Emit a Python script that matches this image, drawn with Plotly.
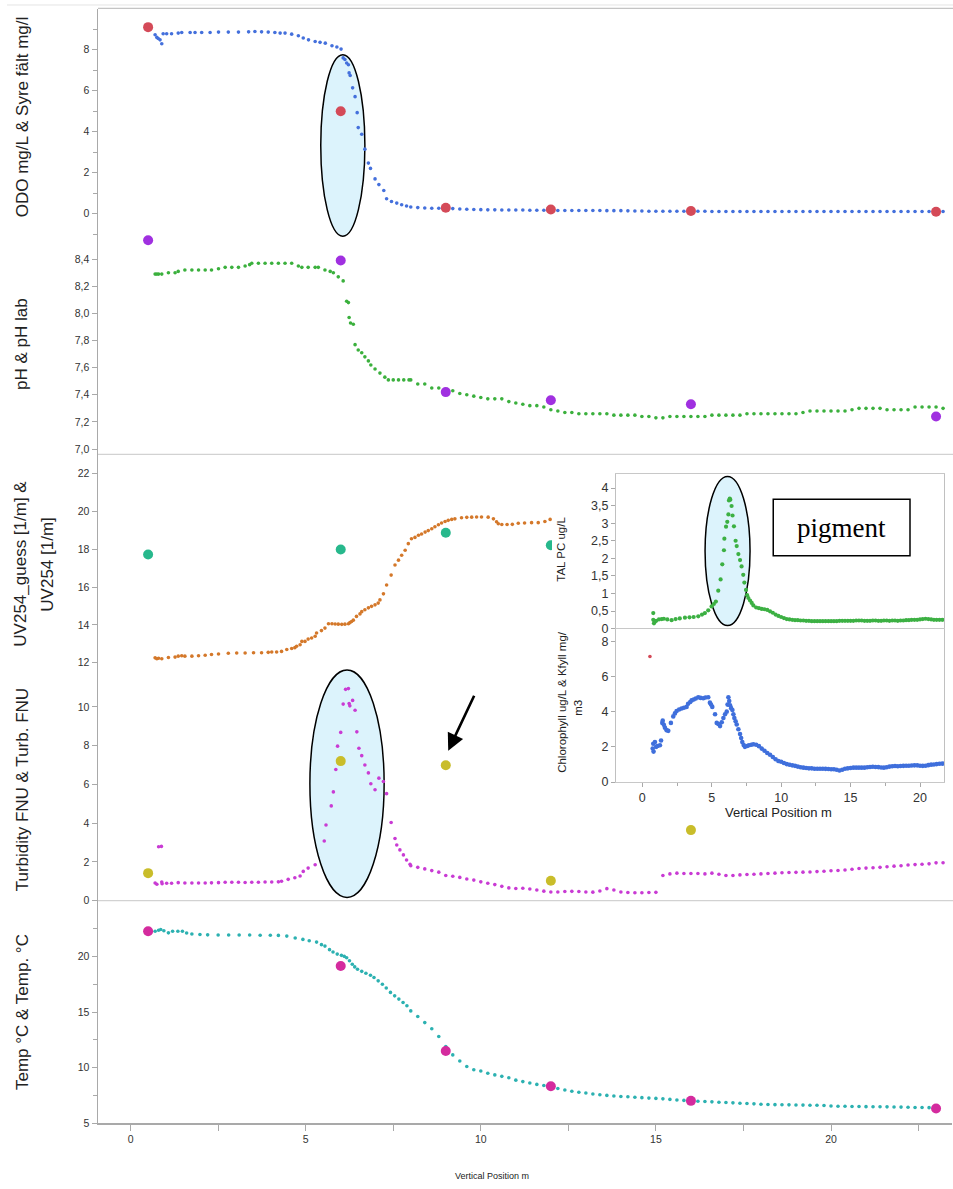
import plotly.graph_objects as go

W, H = 953, 1189

# ------------------------------------------------------------------ data
# shared depth grid for the deeper, slowly varying part of the profile (m)
deep_x = [8.0, 8.2, 8.4, 8.6, 8.8, 9.0, 9.2, 9.4, 9.6, 9.8,
          10.0, 10.2, 10.4, 10.6, 10.8, 11.0, 11.2, 11.4, 11.6, 11.8,
          12.0, 12.2, 12.4, 12.6, 12.8, 13.0, 13.2, 13.4, 13.6, 13.8,
          14.0, 14.2, 14.4, 14.6, 14.8, 15.0, 15.2, 15.4, 15.6, 15.8,
          16.0, 16.2, 16.4, 16.6, 16.8, 17.0, 17.2, 17.4, 17.6, 17.8,
          18.0, 18.2, 18.4, 18.6, 18.8, 19.0, 19.2, 19.4, 19.6, 19.8,
          20.0, 20.2, 20.4, 20.6, 20.8, 21.0, 21.2, 21.4, 21.6, 21.8,
          22.0, 22.2, 22.4, 22.6, 22.8, 23.0, 23.2]

# ODO mg/L (sonde)
odo_top = [(0.70, 8.73), (0.75, 8.60), (0.79, 8.55), (0.84, 8.48), (0.89, 8.29), (0.93, 8.78),
           (1.03, 8.78), (1.17, 8.78), (1.36, 8.81), (1.46, 8.84), (1.70, 8.84), (1.84, 8.84),
           (2.03, 8.84), (2.27, 8.84), (2.51, 8.86), (2.79, 8.86), (3.08, 8.86), (3.37, 8.87),
           (3.55, 8.89), (3.74, 8.87), (3.93, 8.86), (4.12, 8.84), (4.27, 8.81), (4.41, 8.81),
           (4.60, 8.76), (4.79, 8.68), (4.93, 8.57), (5.08, 8.48), (5.27, 8.40), (5.41, 8.36),
           (5.56, 8.32), (5.75, 8.19), (5.89, 8.13), (6.01, 8.03), (6.07, 7.60), (6.12, 7.52),
           (6.17, 7.35), (6.22, 7.27), (6.24, 6.87), (6.27, 6.74), (6.34, 6.14), (6.41, 5.71),
           (6.47, 4.93), (6.50, 4.20), (6.60, 3.88), (6.69, 3.15), (6.79, 2.47), (6.85, 2.21),
           (6.98, 1.70), (7.09, 1.42), (7.23, 1.13), (7.31, 0.73), (7.45, 0.60), (7.60, 0.52),
           (7.74, 0.44), (7.88, 0.38)]
odo_deep = [0.33, 0.30, 0.28, 0.27, 0.27, 0.26, 0.25, 0.23, 0.22, 0.21,
            0.20, 0.19, 0.19, 0.18, 0.18, 0.18, 0.18, 0.17, 0.17, 0.17,
            0.17, 0.16, 0.16, 0.16, 0.16, 0.16, 0.16, 0.16, 0.15, 0.15,
            0.15, 0.14, 0.13, 0.13, 0.12, 0.12, 0.12, 0.12, 0.12, 0.12,
            0.12, 0.12, 0.12, 0.11, 0.11, 0.11, 0.11, 0.11, 0.11, 0.11,
            0.11, 0.11, 0.11, 0.11, 0.11, 0.11, 0.11, 0.11, 0.11, 0.11,
            0.11, 0.11, 0.11, 0.11, 0.11, 0.11, 0.11, 0.11, 0.11, 0.11,
            0.11, 0.11, 0.11, 0.11, 0.11, 0.11, 0.11]

# Syre fält mg/l (field samples)
sample_depth = [0.5, 6, 9, 12, 16, 23]
syre_falt = [9.10, 5.00, 0.29, 0.21, 0.13, 0.10]

# pH (sonde)
ph_top = [(0.70, 8.29), (0.75, 8.29), (0.80, 8.29), (0.89, 8.29), (1.08, 8.30), (1.27, 8.30),
          (1.36, 8.31), (1.55, 8.32), (1.75, 8.32), (1.94, 8.32), (2.13, 8.32), (2.31, 8.32),
          (2.51, 8.33), (2.70, 8.34), (2.89, 8.34), (3.08, 8.34), (3.27, 8.35), (3.40, 8.36),
          (3.46, 8.37), (3.65, 8.37), (3.84, 8.37), (4.03, 8.37), (4.22, 8.37), (4.41, 8.37),
          (4.60, 8.37), (4.79, 8.35), (4.89, 8.34), (5.07, 8.34), (5.27, 8.34), (5.36, 8.34),
          (5.55, 8.32), (5.70, 8.31), (5.79, 8.30), (5.93, 8.27), (6.07, 8.24), (6.17, 8.09),
          (6.22, 8.08), (6.24, 7.97), (6.28, 7.93), (6.36, 7.92), (6.41, 7.77), (6.50, 7.73),
          (6.60, 7.71), (6.69, 7.68), (6.79, 7.65), (6.86, 7.62), (6.98, 7.59), (7.12, 7.56),
          (7.26, 7.53), (7.36, 7.51), (7.50, 7.51), (7.65, 7.51), (7.80, 7.51), (7.95, 7.51)]
ph_deep = [7.51, 7.48, 7.48, 7.45, 7.45, 7.43, 7.43, 7.41, 7.40, 7.39,
           7.38, 7.37, 7.37, 7.37, 7.35, 7.34, 7.33, 7.32, 7.32, 7.31,
           7.29, 7.28, 7.27, 7.27, 7.26, 7.26, 7.26, 7.26, 7.26, 7.25,
           7.25, 7.25, 7.25, 7.24, 7.24, 7.23, 7.23, 7.24, 7.24, 7.24,
           7.24, 7.24, 7.24, 7.25, 7.25, 7.25, 7.25, 7.25, 7.26, 7.26,
           7.26, 7.26, 7.26, 7.26, 7.26, 7.26, 7.27, 7.28, 7.28, 7.28,
           7.28, 7.28, 7.28, 7.29, 7.30, 7.30, 7.30, 7.30, 7.29, 7.29,
           7.29, 7.29, 7.31, 7.31, 7.31, 7.31, 7.30]
ph_lab = [8.54, 8.39, 7.42, 7.36, 7.33, 7.24]

# UV254 [1/m] (sonde, the part visible left of the inset)
uv254 = [(0.70, 12.26), (0.75, 12.21), (0.80, 12.24), (0.89, 12.21), (1.08, 12.28), (1.27, 12.30),
         (1.36, 12.35), (1.46, 12.37), (1.55, 12.35), (1.75, 12.35), (1.94, 12.37), (2.13, 12.40),
         (2.31, 12.44), (2.51, 12.46), (2.79, 12.50), (3.03, 12.52), (3.27, 12.52), (3.51, 12.53),
         (3.74, 12.53), (3.93, 12.55), (4.03, 12.57), (4.17, 12.57), (4.31, 12.60), (4.46, 12.70),
         (4.60, 12.75), (4.69, 12.80), (4.74, 12.87), (4.84, 12.95), (4.89, 13.13), (4.98, 13.13),
         (5.07, 13.25), (5.17, 13.31), (5.27, 13.40), (5.31, 13.57), (5.45, 13.70), (5.55, 13.83),
         (5.65, 14.06), (5.75, 14.06), (5.84, 14.05), (5.93, 14.04), (6.03, 14.03), (6.12, 14.04),
         (6.22, 14.06), (6.26, 14.12), (6.31, 14.18), (6.36, 14.25), (6.45, 14.45), (6.55, 14.58),
         (6.60, 14.70), (6.69, 14.80), (6.79, 14.90), (6.88, 14.98), (6.98, 15.06), (7.07, 15.15),
         (7.12, 15.32), (7.22, 15.64), (7.31, 16.11), (7.44, 16.63), (7.55, 17.16), (7.65, 17.42),
         (7.74, 17.68), (7.84, 17.94), (7.93, 18.29), (8.02, 18.55), (8.12, 18.62), (8.22, 18.73),
         (8.31, 18.80), (8.41, 18.90), (8.50, 18.98), (8.60, 19.08), (8.69, 19.18), (8.79, 19.29),
         (8.88, 19.38), (8.98, 19.46), (9.07, 19.52), (9.17, 19.57), (9.26, 19.60), (9.45, 19.66),
         (9.60, 19.68), (9.74, 19.69), (9.88, 19.70), (10.02, 19.70), (10.21, 19.69), (10.36, 19.60),
         (10.45, 19.45), (10.50, 19.34), (10.60, 19.30), (10.75, 19.30), (10.90, 19.31), (11.07, 19.37),
         (11.25, 19.38), (11.45, 19.40), (11.64, 19.40), (11.83, 19.46), (11.98, 19.57)]
uv_guess_depth = [0.5, 6, 9, 12]
uv_guess = [17.72, 17.98, 18.87, 18.21]

# Turbidity FNU (sonde)
turb_top = [(0.80, 2.78), (0.88, 2.80), (0.70, 0.91), (0.75, 0.85), (0.89, 0.96), (0.90, 0.87),
            (1.03, 0.90), (1.17, 0.90), (1.36, 0.93), (1.55, 0.91), (1.75, 0.91), (1.94, 0.91),
            (2.13, 0.91), (2.31, 0.92), (2.51, 0.93), (2.70, 0.95), (2.89, 0.95), (3.08, 0.95),
            (3.27, 0.94), (3.46, 0.95), (3.65, 0.95), (3.84, 0.96), (4.03, 0.96), (4.22, 0.97),
            (4.31, 1.00), (4.50, 1.10), (4.69, 1.18), (4.84, 1.27), (4.93, 1.51), (5.07, 1.68),
            (5.27, 1.85), (5.53, 3.08), (5.58, 3.90), (5.73, 4.89), (5.79, 5.61), (5.86, 6.77),
            (5.91, 7.97), (6.00, 8.68), (6.07, 10.14), (6.14, 10.90), (6.22, 10.94), (6.24, 10.17),
            (6.26, 10.05), (6.34, 10.33), (6.41, 9.82), (6.46, 8.71), (6.52, 7.86), (6.60, 7.48),
            (6.69, 7.00), (6.79, 6.59), (6.86, 6.03), (6.98, 5.72), (7.09, 6.32), (7.22, 6.15),
            (7.31, 5.52), (7.44, 4.03), (7.55, 3.21), (7.60, 2.87), (7.69, 2.62), (7.79, 2.36),
            (7.88, 2.10), (7.98, 1.88)]
turb_deep = [1.80, 1.72, 1.64, 1.55, 1.47, 1.30, 1.26, 1.20, 1.12, 1.06,
             0.97, 0.90, 0.83, 0.74, 0.66, 0.63, 0.64, 0.60, 0.55, 0.49,
             0.45, 0.45, 0.47, 0.48, 0.47, 0.45, 0.44, 0.50, 0.62, 0.55,
             0.45, 0.42, 0.41, 0.41, 0.42, 0.43, 1.30, 1.38, 1.42, 1.40,
             1.40, 1.40, 1.38, 1.42, 1.36, 1.30, 1.30, 1.33, 1.35, 1.36,
             1.38, 1.40, 1.42, 1.44, 1.45, 1.46, 1.47, 1.48, 1.50, 1.52,
             1.54, 1.56, 1.58, 1.62, 1.66, 1.68, 1.70, 1.72, 1.75, 1.78,
             1.80, 1.84, 1.86, 1.88, 1.90, 1.95, 1.96]
turb_lab_depth = [0.5, 6, 9, 12, 16]
turb_lab = [1.42, 7.20, 6.99, 1.03, 3.64]

# Temp °C (sonde)
temp_top = [(0.70, 22.26), (0.80, 22.35), (0.86, 22.41), (0.95, 22.30), (1.08, 22.11), (1.20, 22.25),
            (1.35, 22.25), (1.48, 22.26), (1.60, 22.10), (1.75, 22.00), (1.98, 21.96), (2.20, 21.93),
            (2.50, 21.92), (2.80, 21.91), (3.10, 21.91), (3.40, 21.91), (3.70, 21.90), (3.99, 21.90),
            (4.22, 21.88), (4.46, 21.82), (4.70, 21.65), (4.92, 21.52), (5.10, 21.40), (5.31, 21.28),
            (5.45, 21.05), (5.55, 20.92), (5.68, 20.60), (5.78, 20.39), (5.90, 20.20), (6.02, 20.09),
            (6.10, 20.00), (6.17, 19.88), (6.25, 19.60), (6.33, 19.29), (6.40, 19.05), (6.48, 18.84),
            (6.60, 18.65), (6.72, 18.48), (6.85, 18.30), (6.95, 18.10), (7.07, 17.80), (7.19, 17.50),
            (7.30, 17.15), (7.42, 16.76), (7.54, 16.45), (7.66, 16.16), (7.78, 15.85), (7.89, 15.56)]
temp_deep = [15.10, 14.60, 14.05, 13.50, 12.80, 11.90, 11.15, 10.60, 10.10, 9.82,
             9.70, 9.50, 9.35, 9.22, 9.10, 8.88, 8.75, 8.62, 8.50, 8.40,
             8.27, 8.13, 8.00, 7.88, 7.80, 7.72, 7.64, 7.57, 7.51, 7.45,
             7.41, 7.39, 7.35, 7.31, 7.27, 7.24, 7.20, 7.15, 7.10, 7.06,
             7.02, 6.99, 6.96, 6.93, 6.90, 6.87, 6.84, 6.81, 6.78, 6.75,
             6.71, 6.69, 6.68, 6.67, 6.66, 6.65, 6.64, 6.63, 6.62, 6.61,
             6.56, 6.54, 6.53, 6.52, 6.51, 6.50, 6.49, 6.49, 6.48, 6.47,
             6.46, 6.44, 6.43, 6.42, 6.41, 6.40, None]
temp_lab = [22.26, 19.14, 11.49, 8.33, 7.02, 6.34]

# inset: TAL PC ug/L
tal_top = [(0.79, 0.44), (0.79, 0.25), (0.84, 0.15), (0.90, 0.20), (1.00, 0.22), (1.20, 0.26),
           (1.40, 0.27), (1.55, 0.28), (1.80, 0.26), (2.11, 0.24), (2.40, 0.27), (2.70, 0.29),
           (3.07, 0.31), (3.40, 0.32), (3.70, 0.33), (4.03, 0.35), (4.30, 0.40), (4.51, 0.44),
           (4.75, 0.52), (4.99, 0.63), (5.15, 0.70), (5.30, 0.77), (5.47, 1.08), (5.64, 1.40),
           (5.76, 1.83), (5.88, 2.23), (5.91, 2.56), (6.03, 2.90), (6.12, 3.04), (6.20, 3.25),
           (6.24, 3.65), (6.30, 3.70), (6.34, 3.67), (6.43, 3.49), (6.50, 3.22), (6.60, 2.91),
           (6.72, 2.50), (6.80, 2.35), (6.92, 2.12), (7.04, 1.95), (7.15, 1.77), (7.27, 1.53),
           (7.35, 1.31), (7.47, 1.10), (7.55, 0.95), (7.64, 0.87), (7.76, 0.80), (7.88, 0.73)]
tal_deep = [0.66, 0.60, 0.58, 0.56, 0.55, 0.53, 0.49, 0.45, 0.40, 0.36,
            0.33, 0.30, 0.27, 0.26, 0.25, 0.24, 0.24, 0.23, 0.23, 0.22,
            0.22, 0.21, 0.21, 0.21, 0.21, 0.21, 0.21, 0.21, 0.21, 0.21,
            0.21, 0.22, 0.22, 0.22, 0.22, 0.22, 0.22, 0.23, 0.23, 0.23,
            0.22, 0.22, 0.22, 0.23, 0.23, 0.22, 0.22, 0.23, 0.23, 0.22,
            0.23, 0.23, 0.22, 0.23, 0.23, 0.24, 0.24, 0.25, 0.25, 0.25,
            0.26, 0.27, 0.28, 0.27, 0.26, 0.25, 0.25, 0.25, 0.25, 0.25,
            0.25, 0.25, 0.25, 0.25, 0.25, 0.25, 0.25]

# inset: Chlorophyll ug/L (sonde) and Kfyll mg/m3 (sample)
chl_top = [(0.79, 2.18), (0.75, 1.91), (0.81, 1.73), (0.91, 2.27), (1.00, 2.00), (1.10, 2.05),
           (1.27, 2.09), (1.35, 2.36), (1.44, 3.36), (1.47, 3.49), (1.55, 3.25), (1.63, 3.09),
           (1.75, 2.95), (1.87, 2.91), (2.06, 3.36), (2.23, 3.73), (2.35, 3.90), (2.47, 4.04),
           (2.65, 4.12), (2.83, 4.18), (3.00, 4.22), (3.19, 4.27), (3.30, 4.45), (3.45, 4.55),
           (3.55, 4.64), (3.70, 4.69), (3.85, 4.75), (4.03, 4.82), (4.20, 4.78), (4.39, 4.76),
           (4.55, 4.80), (4.75, 4.82), (4.87, 4.51), (4.95, 4.40), (5.04, 4.27), (5.24, 3.85),
           (5.36, 3.36), (5.48, 3.30), (5.60, 3.18), (5.72, 3.40), (5.84, 3.64), (5.96, 3.85),
           (6.08, 4.00), (6.14, 4.40), (6.20, 4.82), (6.26, 4.60), (6.32, 4.36), (6.40, 4.20),
           (6.49, 4.09), (6.56, 3.85), (6.63, 3.64), (6.72, 3.45), (6.80, 3.27), (6.92, 3.00),
           (7.04, 2.73), (7.12, 2.50), (7.20, 2.27), (7.30, 2.10), (7.39, 2.00), (7.55, 2.05),
           (7.68, 2.09), (7.85, 2.12)]
chl_deep = [2.15, 2.12, 2.04, 1.90, 1.78, 1.65, 1.55, 1.42, 1.30, 1.20,
            1.15, 1.08, 1.02, 0.98, 0.95, 0.92, 0.88, 0.84, 0.82, 0.80,
            0.78, 0.78, 0.76, 0.76, 0.76, 0.76, 0.75, 0.74, 0.73, 0.73,
            0.70, 0.66, 0.70, 0.76, 0.78, 0.80, 0.82, 0.82, 0.82, 0.82,
            0.82, 0.84, 0.86, 0.87, 0.86, 0.85, 0.83, 0.82, 0.84, 0.88,
            0.90, 0.91, 0.90, 0.91, 0.92, 0.93, 0.93, 0.94, 0.95, 0.95,
            0.93, 0.92, 0.93, 0.96, 0.99, 1.00, 1.02, 1.04, 1.05, 1.06,
            1.06, 1.06, 1.07, 1.07, 1.07, 1.07, 1.07]
kfyll_depth = [0.55]
kfyll = [7.13]

# tick labels
ph_ticks = [7.0, 7.2, 7.4, 7.6, 7.8, 8.0, 8.2, 8.4]
ph_ticktext = ["7,0", "7,2", "7,4", "7,6", "7,8", "8,0", "8,2", "8,4"]
tal_ticks = [0, 0.5, 1, 1.5, 2, 2.5, 3, 3.5, 4]
tal_ticktext = ["0", "0,5", "1", "1,5", "2", "2,5", "3", "3,5", "4"]

for arr in (odo_deep, ph_deep, turb_deep, temp_deep, tal_deep, chl_deep):
    assert len(arr) == len(deep_x), len(arr)

# ------------------------------------------------------------------ helpers
def pxx(p):
    return p / W


def pxy(p):
    return 1 - p / H


def series(top, deep):
    xs = [p[0] for p in top] + list(deep_x)
    ys = [p[1] for p in top] + list(deep)
    return xs, ys


def dots(x, y, xa, ya, color, size, clip=True):
    return go.Scatter(x=x, y=y, xaxis=xa, yaxis=ya, mode="markers",
                      marker=dict(color=color, size=size, line=dict(width=0)),
                      cliponaxis=clip, showlegend=False, hoverinfo="skip")


NARROW = "Liberation Sans Narrow, Arial Narrow, Liberation Sans, Arial, sans-serif"
SANS = "Liberation Sans, Arial, sans-serif"
AXC = "#a9a9a9"
TXT = "#333333"

fig = go.Figure()

# main panels
ox, oy = series(odo_top, odo_deep)
fig.add_trace(dots(ox, oy, "x", "y", "#4470dc", 3.6))
fig.add_trace(dots(sample_depth, syre_falt, "x", "y", "#d44a58", 10, clip=False))

px_, py_ = series(ph_top, ph_deep)
fig.add_trace(dots(px_, py_, "x", "y2", "#3bb03d", 3.6))
fig.add_trace(dots(sample_depth, ph_lab, "x", "y2", "#a030e0", 10, clip=False))

# UV panel uses its own x axis that stops where the pasted inset begins
fig.add_trace(dots([p[0] for p in uv254], [p[1] for p in uv254], "x4", "y3", "#d4782a", 3.6))
fig.add_trace(dots(uv_guess_depth, uv_guess, "x4", "y3", "#27b88c", 10, clip=True))

tx, ty = series(turb_top, turb_deep)
fig.add_trace(dots(tx, ty, "x", "y4", "#c93bd4", 3.6))
fig.add_trace(dots(turb_lab_depth, turb_lab, "x", "y4", "#c9bd2a", 10, clip=False))

mx, my = series(temp_top, temp_deep)
fig.add_trace(dots(mx, my, "x", "y5", "#2cb1b1", 3.6))
fig.add_trace(dots(sample_depth, temp_lab, "x", "y5", "#d42b9e", 10, clip=False))

# inset
gx, gy = series(tal_top, tal_deep)
fig.add_trace(dots(gx, gy, "x2", "y6", "#3cb043", 4.2))
cx, cy = series(chl_top, chl_deep)
fig.add_trace(dots(cx, cy, "x3", "y7", "#3f6fdc", 4.6))
fig.add_trace(dots(kfyll_depth, kfyll, "x3", "y7", "#d44a58", 3.6))

# ------------------------------------------------------------------ axes
PX_PER_M = 35.02
X0_PX = 130.6
main_xrange = [(98 - X0_PX) / PX_PER_M, (952 - X0_PX) / PX_PER_M]
uv_xrange = [(98 - X0_PX) / PX_PER_M, (552 - X0_PX) / PX_PER_M]
inset_xrange = [(616 - 642.3) / 13.885, (944 - 642.3) / 13.885]

tickfont = dict(family=NARROW, size=10.5, color=TXT)
yax_common = dict(showline=True, linecolor=AXC, linewidth=1.5, ticks="outside",
                  ticklen=5, tickcolor=AXC, tickfont=tickfont, showgrid=False,
                  zeroline=False, fixedrange=True)
inset_tickfont = dict(family=NARROW, size=12.5, color=TXT)

fig.update_layout(
    width=W, height=H, autosize=False,
    margin=dict(l=0, r=0, t=0, b=0, pad=0),
    paper_bgcolor="white", plot_bgcolor="white",
    separators=", ",
    showlegend=False,
    xaxis=dict(domain=[pxx(98), pxx(952)], range=main_xrange, anchor="y5",
               showline=True, linecolor=AXC, linewidth=1.5, ticks="outside",
               ticklen=6, tickcolor=AXC, tickvals=[0, 5, 10, 15, 20],
               minor=dict(dtick=2.5, tick0=0, ticks="outside", ticklen=6, tickcolor=AXC),
               tickfont=tickfont, showgrid=False, zeroline=False),
    xaxis4=dict(domain=[pxx(98), pxx(552)], range=uv_xrange, anchor="y3", visible=False,
                showgrid=False, zeroline=False),
    yaxis=dict(domain=[pxy(250), pxy(9)], range=[(215 - 250) / 20.625, (215 - 9) / 20.625],
               tickvals=[0, 2, 4, 6, 8], anchor="x",
               minor=dict(dtick=1, tick0=0, ticks="outside", ticklen=4, tickcolor=AXC),
               **yax_common),
    yaxis2=dict(domain=[pxy(457), pxy(239)], anchor="x",
                range=[7.0 + (451.7 - 457) / 136.4, 7.0 + (451.7 - 239) / 136.4],
                tickvals=ph_ticks, ticktext=ph_ticktext, **yax_common),
    yaxis3=dict(domain=[pxy(672), pxy(457)], anchor="x4",
                range=[20 - (672 - 514.3) / 19.05, 20 - (457 - 514.3) / 19.05],
                tickvals=[12, 14, 16, 18, 20, 22], **yax_common),
    yaxis4=dict(domain=[pxy(906), pxy(670)], range=[0, (906 - 670) / 19.5], anchor="x",
                tickvals=[0, 2, 4, 6, 8, 10], **yax_common),
    yaxis5=dict(domain=[pxy(1130), pxy(906)], range=[5, 25], anchor="x",
                tickvals=[5, 10, 15, 20],
                minor=dict(dtick=2.5, tick0=0, ticks="outside", ticklen=4, tickcolor=AXC),
                **yax_common),
    # inset axes
    xaxis2=dict(domain=[pxx(616), pxx(944)], range=inset_xrange, anchor="y6",
                showline=True, mirror=True, linecolor="#c8c8c8", linewidth=1,
                showticklabels=False, ticks="", showgrid=False, zeroline=False),
    xaxis3=dict(domain=[pxx(616), pxx(944)], range=inset_xrange, anchor="y7",
                showline=True, mirror=True, linecolor="#c8c8c8", linewidth=1,
                ticks="outside", ticklen=4, tickcolor=AXC, tickvals=[0, 5, 10, 15, 20],
                minor=dict(dtick=2.5, tick0=0, ticks="outside", ticklen=3, tickcolor=AXC),
                tickfont=inset_tickfont, showgrid=False, zeroline=False),
    yaxis6=dict(domain=[pxy(632.3), pxy(477)], range=[0, (632.3 - 477) / 35.33], anchor="x2",
                showline=True, mirror=True, linecolor="#c0c0c0", linewidth=1,
                ticks="outside", ticklen=4, tickcolor=AXC,
                tickvals=tal_ticks, ticktext=tal_ticktext,
                tickfont=inset_tickfont, showgrid=False, zeroline=False),
    yaxis7=dict(domain=[pxy(786.7), pxy(632.3)], range=[0, (786.7 - 632.3) / 17.71], anchor="x3",
                showline=True, mirror=True, linecolor="#c0c0c0", linewidth=1,
                ticks="outside", ticklen=4, tickcolor=AXC, tickvals=[0, 2, 4, 6, 8],
                tickfont=inset_tickfont, showgrid=False, zeroline=False),
)

# ------------------------------------------------------------------ shapes
ell_fill = "#dcf3fc"
shapes = [
    dict(type="circle", xref="x", yref="y", x0=5.43, x1=6.69, y0=-1.10, y1=7.76,
         fillcolor=ell_fill, line=dict(color="black", width=1.5), layer="between"),
    dict(type="circle", xref="x", yref="y4", x0=5.12, x1=7.24, y0=0.17, y1=11.9,
         fillcolor=ell_fill, line=dict(color="black", width=1.5), layer="between"),
    dict(type="circle", xref="x2", yref="y6", x0=4.52, x1=7.76, y0=0.085, y1=4.33,
         fillcolor=ell_fill, line=dict(color="black", width=1.5), layer="between"),
    dict(type="rect", xref="x2", yref="y6", x0=9.43, x1=19.28, y0=2.07, y1=3.68,
         fillcolor="white", line=dict(color="black", width=1.5), layer="above"),
    # separators
    dict(type="line", xref="paper", yref="paper", x0=pxx(7), x1=1, y0=pxy(5), y1=pxy(5),
         line=dict(color="#e4e4e4", width=1), layer="above"),
    dict(type="line", xref="paper", yref="paper", x0=pxx(98), x1=1, y0=pxy(8.5), y1=pxy(8.5),
         line=dict(color="#c4c4c4", width=1.2), layer="above"),
    dict(type="line", xref="paper", yref="paper", x0=pxx(98), x1=1, y0=pxy(457), y1=pxy(457),
         line=dict(color="#d2d2d2", width=1.2), layer="above"),
    dict(type="line", xref="paper", yref="paper", x0=pxx(98), x1=1, y0=pxy(906), y1=pxy(906),
         line=dict(color="#d2d2d2", width=1.2), layer="above"),
]
fig.update_layout(shapes=shapes)

# ------------------------------------------------------------------ annotations
def title(text, px, py, size, angle=-90, family=SANS, color="#222222"):
    return dict(text=text, x=pxx(px), y=pxy(py), xref="paper", yref="paper",
                showarrow=False, textangle=angle, xanchor="center", yanchor="middle",
                font=dict(family=family, size=size, color=color))


annotations = [
    title("ODO mg/L &amp; Syre fält mg/l", 22, 118, 17),
    title("pH &amp; pH lab", 22, 346, 17),
    title("UV254_guess [1/m] &amp;", 21, 567, 17),
    title("UV254 [1/m]", 48, 568, 17),
    title("Turbidity FNU &amp; Turb. FNU", 22, 795, 17),
    title("Temp °C &amp; Temp. °C", 22, 1018, 17),
    title("Vertical Position m", 492, 1183, 9, angle=0, family=NARROW),
    title("TAL PC ug/L", 561, 553, 11.5),
    title("Chlorophyll ug/L &amp; Kfyll mg/", 562, 706, 11.5),
    title("m3", 578, 712, 11.5),
    title("Vertical Position m", 778, 817, 13, angle=0, family=NARROW),
    dict(text="pigment", x=(9.43 + 19.28) / 2, y=(2.07 + 3.68) / 2, xref="x2", yref="y6",
         showarrow=False, font=dict(family="Liberation Serif, Times New Roman, serif",
                                    size=27, color="black")),
    dict(text="", x=9.07, y=7.74, xref="x", yref="y4", ax=9.83, ay=10.65,
         axref="x", ayref="y4", showarrow=True, arrowhead=2, arrowsize=1.3,
         arrowwidth=2.6, arrowcolor="black"),
]
fig.update_layout(annotations=annotations)

# remove the browser's default page margin so the figure sits at the window's corner
page_fix = ("document.body.style.margin='0';document.body.style.padding='0';"
            "document.documentElement.style.overflow='hidden';")
fig.write_html("out.html", post_script=page_fix,
               config={"displayModeBar": False, "staticPlot": True})
